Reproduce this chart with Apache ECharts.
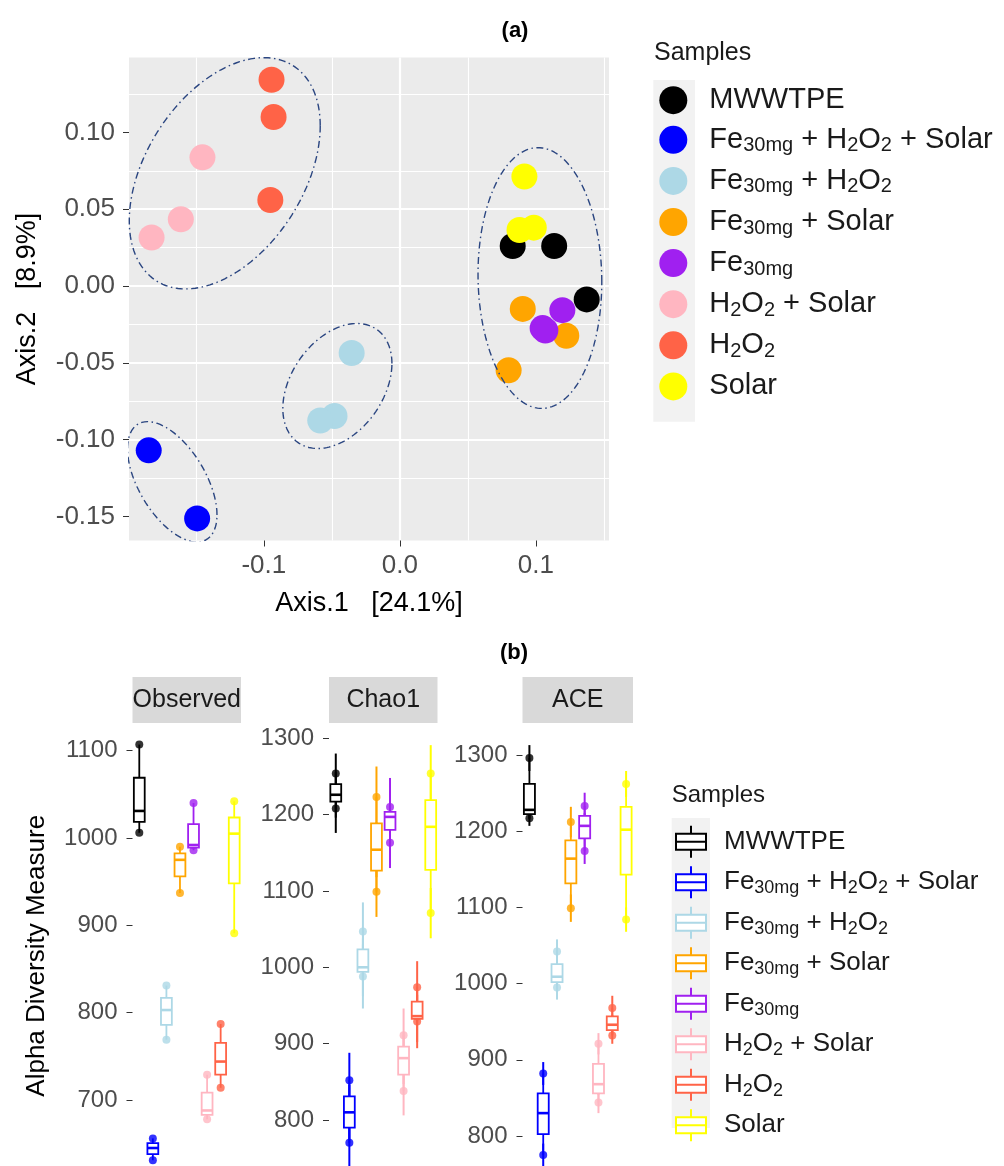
<!DOCTYPE html>
<html><head><meta charset="utf-8">
<script src="https://cdn.jsdelivr.net/npm/echarts@6/dist/echarts.min.js"></script>
<style>html,body{margin:0;padding:0;background:#fff}#c{width:1004px;height:1166px}</style>
</head><body><div id="c"></div>
<script>
// ---------- data ----------
const groups = ['MWWTPE','Fe30mg + H2O2 + Solar','Fe30mg + H2O2','Fe30mg + Solar','Fe30mg','H2O2 + Solar','H2O2','Solar'];
const colors = ['#000000','#0000FF','#ADD8E6','#FFA500','#A020F0','#FFB6C1','#FF6347','#FFFF00'];
const legendRich = [
  '{n|MWWTPE}',
  '{n|Fe}{s|30mg}{n| + H}{s|2}{n|O}{s|2}{n| + Solar}',
  '{n|Fe}{s|30mg}{n| + H}{s|2}{n|O}{s|2}',
  '{n|Fe}{s|30mg}{n| + Solar}',
  '{n|Fe}{s|30mg}',
  '{n|H}{s|2}{n|O}{s|2}{n| + Solar}',
  '{n|H}{s|2}{n|O}{s|2}',
  '{n|Solar}'
];

// (a) PCoA coordinates
const pcoaX = [[0.083,0.1135,0.1374],[-0.1846,-0.149],[-0.0354,-0.048,-0.0585],[0.0904,0.1224,0.080],[0.1195,0.105,0.107],[-0.1451,-0.161,-0.1825],[-0.0943,-0.0928,-0.0952],[0.0916,0.088,0.0985]];
const pcoaY = [[0.0261,0.0261,-0.0087],[-0.107,-0.1513],[-0.0436,-0.0846,-0.0876],[-0.0149,-0.0324,-0.0548],[-0.0157,-0.0274,-0.029],[0.0838,0.0435,0.0316],[0.1343,0.1101,0.056],[0.0713,0.0365,0.038]];
const pcoaXRange = [-0.1991, 0.1538];
const pcoaYRange = [-0.1657, 0.1488];
const pcoaXTicks = [-0.1, 0, 0.1];
const pcoaYTicks = [-0.15, -0.10, -0.05, 0, 0.05, 0.10];

// ellipses (centre, half extents, correlation) in data units
const ellipseCx = [-0.1287, -0.0459, -0.1673, 0.103];
const ellipseCy = [0.0734, -0.0651, -0.1275, 0.0052];
const ellipseHalfW = [0.0702, 0.0401, 0.0329, 0.0455];
const ellipseHalfH = [0.0753, 0.0407, 0.0392, 0.0849];
const ellipseRho = [0.41, 0.36, -0.55, -0.03];

// (b) alpha diversity per sample
const observed = [[1006,1031,1107],[631,645,656],[769,803,831],[937,975,990],[986,992,1040],[678,688,729],[714,744,787],[891,1005,1042]];
const chao1 = [[1208,1226,1254],[770,810,852],[988,1000,1047],[1099,1154,1223],[1163,1197,1210],[838,881,911],[929,936,974],[1071,1184,1254]];
const chao1Se = [[32,30,26],[36,36,36],[42,38,38],[33,36,40],[33,35,38],[32,34,35],[35,34,34],[33,35,37]];
const ace = [[1217,1228,1296],[775,830,882],[995,1009,1042],[1099,1164,1212],[1174,1207,1233],[844,868,921],[932,946,968],[1084,1202,1262]];
const aceSe = [[10,12,17],[15,15,15],[16,15,16],[18,19,20],[17,17,17.5],[14,14,14],[11,13,16],[16,17,17]];
const facetNames = ['Observed','Chao1','ACE'];
const obsRange = [624.4, 1131.7];
const chaoRange = [739.7, 1320];
const aceRange = [760.6, 1342];
const obsTicks = [700,800,900,1000,1100];
const chaoTicks = [800,900,1000,1100,1200,1300];
const aceTicks = [800,900,1000,1100,1200,1300];

// ---------- helpers ----------
const FF = 'Liberation Sans, Arial, Helvetica, sans-serif';
function q7(arr, p){ const s = arr.slice().sort((a,b)=>a-b); const h=(s.length-1)*p; const lo=Math.floor(h), hi=Math.ceil(h); return s[lo]+(h-lo)*(s[hi]-s[lo]); }
function ellipsePts(k){
  const pts=[]; const n=160; const r=ellipseRho[k]; const c=Math.sqrt(1-r*r);
  for(let i=0;i<=n;i++){ const t=2*Math.PI*i/n;
    pts.push([ellipseCx[k]+ellipseHalfW[k]*Math.cos(t), ellipseCy[k]+ellipseHalfH[k]*(r*Math.cos(t)+c*Math.sin(t))]); }
  return pts;
}
function isMult(v, step){ const k=Math.round(v/step); return Math.abs(v/step-k)<1e-6; }

const chart = echarts.init(document.getElementById('c'), null, {renderer:'canvas'});

const grids = [
  {left:129, top:57.5, width:480, height:483, show:true, backgroundColor:'#EBEBEB', borderWidth:0},
  {left:132.5, top:723, width:108.5, height:443, show:false},
  {left:329, top:723, width:108.5, height:443, show:false},
  {left:522.5, top:723, width:110.5, height:443, show:false}
];

const xAxes = [{
  type:'value', gridIndex:0, position:'bottom', min:pcoaXRange[0], max:pcoaXRange[1], minInterval:0.1, maxInterval:0.1,
  axisLine:{show:false, onZero:false},
  axisTick:{show:true, length:6, lineStyle:{color:'#333', width:1}, customValues:pcoaXTicks},
  axisLabel:{fontSize:26, color:'#4D4D4D', margin:12, fontFamily:FF, customValues:pcoaXTicks,
    formatter:v=> isMult(v,0.1) ? (Math.round(v*10)/10).toFixed(1) : ''},
  splitLine:{show:true, showMinLine:false, showMaxLine:false, lineStyle:{color:'#FFFFFF', width:2.2}},
  minorTick:{show:false, splitNumber:2},
  minorSplitLine:{show:true, lineStyle:{color:'#FFFFFF', width:1.1}},
  name:'Axis.1   [24.1%]', nameLocation:'middle', nameGap:50,
  nameTextStyle:{fontSize:27, color:'#000', fontFamily:FF}
}];
const yAxes = [{
  type:'value', gridIndex:0, position:'left', min:pcoaYRange[0], max:pcoaYRange[1], minInterval:0.05, maxInterval:0.05,
  axisLine:{show:false, onZero:false},
  axisTick:{show:true, length:6, lineStyle:{color:'#333', width:1}, customValues:pcoaYTicks},
  axisLabel:{fontSize:26, color:'#4D4D4D', margin:14, fontFamily:FF, customValues:pcoaYTicks,
    formatter:v=> isMult(v,0.05) ? (Math.round(v*100)/100).toFixed(2) : ''},
  splitLine:{show:true, showMinLine:false, showMaxLine:false, lineStyle:{color:'#FFFFFF', width:2.2}},
  minorTick:{show:false, splitNumber:2},
  minorSplitLine:{show:true, lineStyle:{color:'#FFFFFF', width:1.1}},
  name:'Axis.2   [8.9%]', nameLocation:'middle', nameGap:88, nameRotate:90,
  nameTextStyle:{fontSize:27, color:'#000', fontFamily:FF}
}];

const ranges = [obsRange, chaoRange, aceRange];
const tickSets = [obsTicks, chaoTicks, aceTicks];
for (let k=0;k<3;k++){
  xAxes.push({type:'category', gridIndex:k+1, data:groups, boundaryGap:true, show:false, axisLine:{onZero:false}});
  yAxes.push({type:'value', gridIndex:k+1, position:'left', min:ranges[k][0], max:ranges[k][1], minInterval:100, maxInterval:100,
    axisLine:{show:false, onZero:false}, splitLine:{show:false},
    axisTick:{show:true, length:6, lineStyle:{color:'#333', width:1}, customValues:tickSets[k]},
    axisLabel:{fontSize:24, color:'#4D4D4D', margin:15, fontFamily:FF, customValues:tickSets[k],
      formatter:v=> isMult(v,100) ? String(Math.round(v)) : ''}});
}

const series = [];
// (a) points
groups.forEach((g,i)=>{
  series.push({type:'scatter', name:g, xAxisIndex:0, yAxisIndex:0, symbol:'circle', symbolSize:26,
    itemStyle:{color:colors[i], opacity:1}, z:3, silent:true,
    data: pcoaX[i].map((x,j)=>[x, pcoaY[i][j]])});
});
// (a) ellipses
for (let k=0;k<ellipseCx.length;k++){
  series.push({type:'line', xAxisIndex:0, yAxisIndex:0, data:ellipsePts(k), showSymbol:false, symbol:'none',
    smooth:false, silent:true, z:5, clip:true,
    lineStyle:{color:'#2A4580', width:1.4, type:[7,3.5,1.5,3.5]}});
}

// (b)
const panelData = [observed, chao1, ace];
const panelSe = [null, chao1Se, aceSe];
function errRender(params, api){
  const x=api.value(0); const p1=api.coord([x,api.value(1)]); const p2=api.coord([x,api.value(2)]);
  return {type:'line', shape:{x1:p1[0],y1:p1[1],x2:p2[0],y2:p2[1]}, style:{stroke:api.visual('color'), lineWidth:2}};
}
function boxRender(params, api){
  const x=api.value(0);
  const pMin=api.coord([x,api.value(1)]), pQ1=api.coord([x,api.value(2)]), pMed=api.coord([x,api.value(3)]),
        pQ3=api.coord([x,api.value(4)]), pMax=api.coord([x,api.value(5)]);
  const bw=api.size([1,0])[0]*0.8; const cx=pMed[0]; const c=api.visual('color');
  return {type:'group', children:[
    {type:'line', shape:{x1:cx,y1:pMax[1],x2:cx,y2:pQ3[1]}, style:{stroke:c, lineWidth:1.8}},
    {type:'line', shape:{x1:cx,y1:pQ1[1],x2:cx,y2:pMin[1]}, style:{stroke:c, lineWidth:1.8}},
    {type:'rect', shape:{x:cx-bw/2, y:pQ3[1], width:bw, height:pQ1[1]-pQ3[1]}, style:{stroke:c, lineWidth:1.8, fill:'#FFFFFF'}},
    {type:'line', shape:{x1:cx-bw/2,y1:pMed[1],x2:cx+bw/2,y2:pMed[1]}, style:{stroke:c, lineWidth:2.6}}
  ]};
}
for (let k=0;k<3;k++){
  const vals = panelData[k], se = panelSe[k];
  if (se){
    const ed=[];
    vals.forEach((arr,gi)=>arr.forEach((v,j)=>ed.push({value:[gi, v-se[gi][j], v+se[gi][j]], itemStyle:{color:colors[gi]}})));
    series.push({type:'custom', xAxisIndex:k+1, yAxisIndex:k+1, renderItem:errRender, data:ed, z:2, silent:true});
  }
  const pd=[];
  vals.forEach((arr,gi)=>arr.forEach(v=>pd.push({value:[gi,v], itemStyle:{color:colors[gi]}})));
  series.push({type:'scatter', xAxisIndex:k+1, yAxisIndex:k+1, symbolSize:8, data:pd, z:3, silent:true});
  groups.forEach((g,gi)=>{
    const a=vals[gi];
    series.push({type:'custom', name:g, xAxisIndex:k+1, yAxisIndex:k+1, renderItem:boxRender, z:4, silent:true,
      itemStyle:{color:colors[gi]},
      data:[[gi, Math.min(...a), q7(a,0.25), q7(a,0.5), q7(a,0.75), Math.max(...a)]]});
  });
}

const boxIcon = 'path://M15,0L15,8M0,8L30,8L30,24L0,24ZM0,16L30,16M15,24L15,32';
const legends = [
  {orient:'vertical', left:659.3, top:85.7, padding:0, itemWidth:28, itemHeight:28, itemGap:10.6, selectedMode:false,
   data: groups.map((g,i)=>({name:g, icon:'circle', itemStyle:{color:colors[i], borderWidth:0}})),
   formatter: n=>legendRich[groups.indexOf(n)],
   textStyle:{padding:[0,0,0,17], rich:{
     n:{fontSize:29, lineHeight:32, color:'#1A1A1A', fontFamily:FF},
     s:{fontSize:20, lineHeight:16, verticalAlign:'bottom', color:'#1A1A1A', fontFamily:FF}}}},
  {orient:'vertical', left:675, top:824.7, padding:0, itemWidth:30, itemHeight:32, itemGap:6.5, selectedMode:false,
   data: groups.map((g,i)=>({name:g, icon:boxIcon, itemStyle:{color:'#FFFFFF', borderColor:colors[i], borderWidth:2}})),
   formatter: n=>legendRich[groups.indexOf(n)],
   textStyle:{padding:[0,0,0,13], rich:{
     n:{fontSize:26, lineHeight:30, color:'#1A1A1A', fontFamily:FF},
     s:{fontSize:18, lineHeight:15, verticalAlign:'bottom', color:'#1A1A1A', fontFamily:FF}}}}
];

const stripX = [[132.5,241],[329,437.5],[522.5,633]];
const graphics = [
  {type:'rect', shape:{x:653.3, y:80, width:41.7, height:341.7}, style:{fill:'#F2F2F2'}, z:0, silent:true},
  {type:'rect', shape:{x:671.7, y:818, width:38.3, height:310}, style:{fill:'#F2F2F2'}, z:0, silent:true},
  {type:'text', x:654, y:53.3, style:{text:'Samples', fontSize:25, fontFamily:FF, fill:'#1A1A1A', align:'left', verticalAlign:'middle'}, z:5},
  {type:'text', x:671.7, y:795, style:{text:'Samples', fontSize:24, fontFamily:FF, fill:'#1A1A1A', align:'left', verticalAlign:'middle'}, z:5},
  {type:'text', x:515, y:31, style:{text:'(a)', fontSize:22, fontWeight:'bold', fontFamily:FF, fill:'#000', align:'center', verticalAlign:'middle'}, z:5},
  {type:'text', x:514, y:653, style:{text:'(b)', fontSize:22, fontWeight:'bold', fontFamily:FF, fill:'#000', align:'center', verticalAlign:'middle'}, z:5},
  {type:'text', x:36.7, y:955.8, rotation:Math.PI/2, style:{text:'Alpha Diversity Measure', fontSize:26, fontFamily:FF, fill:'#000', align:'center', verticalAlign:'middle'}, z:5}
];
stripX.forEach((s,k)=>{
  graphics.push({type:'rect', shape:{x:s[0], y:677, width:s[1]-s[0], height:46}, style:{fill:'#D9D9D9'}, z:0, silent:true});
  graphics.push({type:'text', x:(s[0]+s[1])/2, y:700, style:{text:facetNames[k], fontSize:25, fontFamily:FF, fill:'#1A1A1A', align:'center', verticalAlign:'middle'}, z:5});
});

chart.setOption({
  animation:false,
  backgroundColor:'#FFFFFF',
  textStyle:{fontFamily:FF},
  grid:grids, xAxis:xAxes, yAxis:yAxes, series:series, legend:legends, graphic:graphics
});
</script></body></html>
